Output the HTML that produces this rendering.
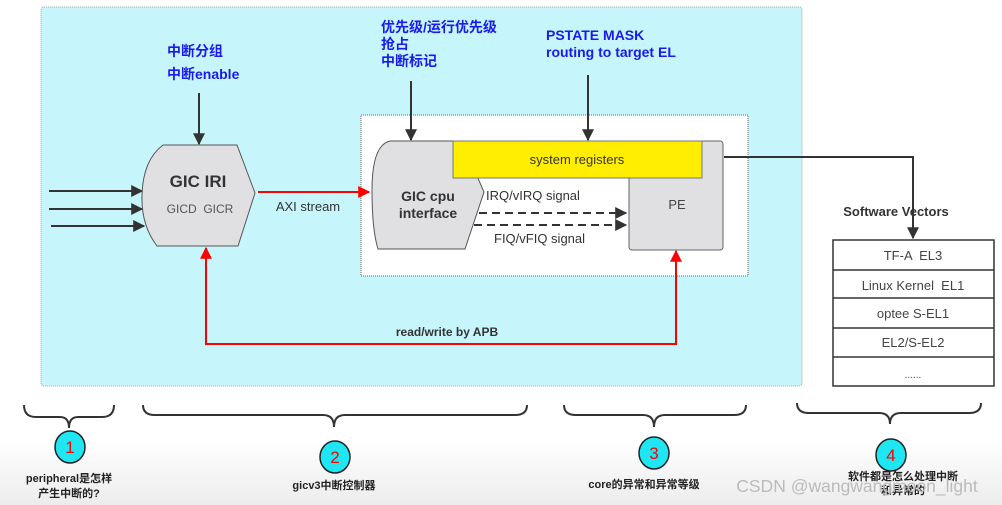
<!DOCTYPE html>
<html><head><meta charset="utf-8"><style>
html,body{margin:0;padding:0;background:#fff;}
svg{display:block;}
text{font-family:"Liberation Sans","Noto Sans CJK SC",sans-serif;}
</style></head><body>
<svg width="1002" height="505" viewBox="0 0 1002 505" xmlns="http://www.w3.org/2000/svg">
<defs>
<marker id="ab" viewBox="0 0 10 10" refX="9" refY="5" markerWidth="6" markerHeight="6" orient="auto"><path d="M0,0L10,5L0,10z" fill="#333"/></marker>
<marker id="ar" viewBox="0 0 10 10" refX="9" refY="5" markerWidth="6" markerHeight="6" orient="auto"><path d="M0,0L10,5L0,10z" fill="#f00"/></marker>
<linearGradient id="bg" x1="0" y1="0" x2="0" y2="1"><stop offset="0" stop-color="#fff"/><stop offset="1" stop-color="#ececec"/></linearGradient>
</defs>
<rect x="0" y="440" width="1002" height="65" fill="url(#bg)"/>
<rect x="41" y="7" width="761" height="379" rx="3" fill="#c6f6fc" stroke="#9aa" stroke-dasharray="1,1"/>
<rect x="361" y="115" width="387" height="161" fill="#fff" stroke="#666" stroke-dasharray="1,1"/>

<g font-weight="bold" fill="#1a1aee" font-size="14">
<text x="167" y="56">中断分组</text>
<text x="167" y="79">中断enable</text>
<text x="381" y="32">优先级/运行优先级</text>
<text x="381" y="49">抢占</text>
<text x="381" y="66">中断标记</text>
<text x="546" y="40">PSTATE MASK</text>
<text x="546" y="57">routing to target EL</text>
</g>

<g stroke="#333" stroke-width="2" fill="none">
<line x1="199" y1="93" x2="199" y2="144" marker-end="url(#ab)"/>
<line x1="411" y1="81" x2="411" y2="140" marker-end="url(#ab)"/>
<line x1="588" y1="75" x2="588" y2="140" marker-end="url(#ab)"/>
<line x1="49" y1="191" x2="142" y2="191" marker-end="url(#ab)"/>
<line x1="49" y1="209" x2="142" y2="209" marker-end="url(#ab)"/>
<line x1="51" y1="226" x2="144" y2="226" marker-end="url(#ab)"/>
</g>

<path d="M163,145 L237,145 L255,193 L238,246 L157,246 Q141,225 142,195 Q143,160 163,145 Z" fill="#e0e0e3" stroke="#555" stroke-width="1"/>
<text x="198" y="187" font-size="17" font-weight="bold" fill="#333" text-anchor="middle">GIC IRI</text>
<text x="200" y="213" font-size="12" fill="#555" text-anchor="middle" xml:space="preserve">GICD  GICR</text>

<line x1="258" y1="192" x2="369" y2="192" stroke="#f00" stroke-width="2" marker-end="url(#ar)"/>
<text x="308" y="211" font-size="13" fill="#333" text-anchor="middle">AXI stream</text>

<path d="M390,141 L470,141 L470,160 L484,192 L465,249 L378,249 Q372,230 372,190 Q372,145 390,141 Z" fill="#e0e0e3" stroke="#555" stroke-width="1"/>
<text x="428" y="201" font-size="14" font-weight="bold" fill="#333" text-anchor="middle">GIC cpu</text>
<text x="428" y="218" font-size="14" font-weight="bold" fill="#333" text-anchor="middle">interface</text>

<rect x="629" y="141" width="94" height="109" rx="3" fill="#e0e0e3" stroke="#666"/>
<text x="677" y="209" font-size="13" fill="#444" text-anchor="middle">PE</text>
<rect x="453" y="141" width="249" height="37" fill="#ffee00" stroke="#777"/>
<text x="577" y="164" font-size="13" fill="#333" text-anchor="middle">system registers</text>

<text x="486" y="200" font-size="13" fill="#333">IRQ/vIRQ signal</text>
<text x="494" y="243" font-size="13" fill="#333">FIQ/vFIQ signal</text>
<g stroke="#333" stroke-width="2" stroke-dasharray="8,5" fill="none">
<line x1="479" y1="213" x2="626" y2="213" marker-end="url(#ab)"/>
<line x1="474" y1="225" x2="626" y2="225" marker-end="url(#ab)"/>
</g>

<polyline points="724,157 913,157 913,238" fill="none" stroke="#333" stroke-width="2" marker-end="url(#ab)"/>

<polyline points="206,249 206,344 676,344 676,251" fill="none" stroke="#f00" stroke-width="2"/>
<line x1="206" y1="270" x2="206" y2="248" stroke="#f00" stroke-width="2" marker-end="url(#ar)"/>
<line x1="676" y1="270" x2="676" y2="251" stroke="#f00" stroke-width="2" marker-end="url(#ar)"/>
<text x="447" y="336" font-size="12" font-weight="bold" fill="#333" text-anchor="middle">read/write by APB</text>

<text x="896" y="216" font-size="13" font-weight="bold" fill="#333" text-anchor="middle">Software Vectors</text>
<rect x="833" y="240" width="161" height="146" fill="#fff" stroke="#333" stroke-width="1.5"/>
<g stroke="#333" stroke-width="1.5">
<line x1="833" y1="270" x2="994" y2="270"/><line x1="833" y1="298" x2="994" y2="298"/>
<line x1="833" y1="328" x2="994" y2="328"/><line x1="833" y1="357" x2="994" y2="357"/>
</g>
<g font-size="13" fill="#444" text-anchor="middle">
<text x="913" y="260" xml:space="preserve">TF-A  EL3</text>
<text x="913" y="290" xml:space="preserve">Linux Kernel  EL1</text>
<text x="913" y="318">optee S-EL1</text>
<text x="913" y="347">EL2/S-EL2</text>
<text x="913" y="378" font-size="10">......</text>
</g>

<g fill="none" stroke="#333" stroke-width="2">
<path d="M24,405 Q24,417 36,417 L60,417 Q69,417 69,428 Q69,417 78,417 L102,417 Q114,417 114,405"/>
<path d="M143,405 Q143,415 155,415 L323,415 Q334,415 334,427 Q334,415 345,415 L515,415 Q527,415 527,405"/>
<path d="M564,405 Q564,415 576,415 L643,415 Q654,415 654,427 Q654,415 665,415 L734,415 Q746,415 746,405"/>
<path d="M797,403 Q797,413 809,413 L879,413 Q890,413 890,424 Q890,413 901,413 L969,413 Q981,413 981,403"/>
</g>
<g fill="#1ee6f2" stroke="#222" stroke-width="1.5">
<ellipse cx="70" cy="447" rx="15" ry="16"/>
<ellipse cx="335" cy="457" rx="15" ry="16"/>
<ellipse cx="654" cy="453" rx="15" ry="16"/>
<ellipse cx="891" cy="455" rx="15" ry="16"/>
</g>
<g font-size="17" fill="#f00" text-anchor="middle">
<text x="70" y="453">1</text><text x="335" y="463">2</text><text x="654" y="459">3</text><text x="891" y="461">4</text>
</g>
<g font-size="11" font-weight="bold" fill="#222" text-anchor="middle">
<text x="69" y="482">peripheral是怎样</text>
<text x="69" y="497">产生中断的?</text>
<text x="334" y="489">gicv3中断控制器</text>
<text x="644" y="488">core的异常和异常等级</text>
<text x="903" y="480">软件都是怎么处理中断</text>
<text x="903" y="494">和异常的</text>
</g>
<text x="857" y="492" font-size="17.5" fill="#bbb" text-anchor="middle">CSDN @wangwangmoon_light</text>
</svg>
</body></html>
